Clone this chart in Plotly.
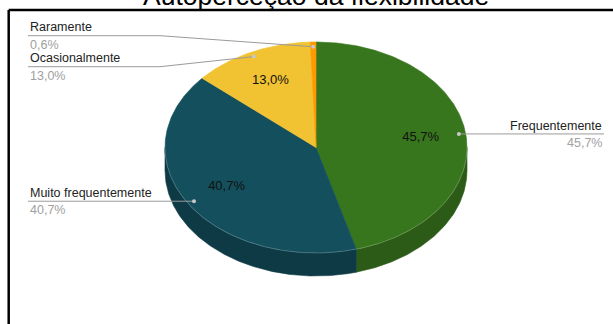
import numpy as np
import plotly.graph_objects as go

# ---- data ----
categories = ["Frequentemente", "Muito frequentemente", "Ocasionalmente", "Raramente"]
values = [45.7, 40.7, 13.0, 0.6]
value_labels = ["45,7%", "40,7%", "13,0%", "0,6%"]
title_text = "Autoperceção da flexibilidade"

# ---- styles ----
colors_top = ["#38761d", "#134f5c", "#f1c232", "#ff9900"]
colors_side = ["#2c5b17", "#0d3a44", "#b8931f", "#c27400"]
FONT = "Liberation Sans, Arial, sans-serif"

# ---- layout geometry (pixels) ----
W, H = 613, 324
CX, CY = 316, 147.5
A, B = 151, 105.5
DEPTH = 23 / B
# label layout per category: side, line y (px), elbow x (px), text x (px)
label_side = ["right", "left", "left", "left"]
label_line_y = [134, 201, 66.7, 35.7]
label_elbow_x = [None, None, 160, 160]
label_text_x = [604, 28, 28, 28]


def to_data(px_, py_):
    return (px_ - CX) / A, (CY - py_) / B


fr = np.array(values) / np.sum(values)
ends = np.cumsum(fr) * 360.0
starts = ends - fr * 360.0


def arc(a0, a1, off=0.0, r=1.0):
    n = max(2, int(abs(a1 - a0) * 2) + 2)
    t = np.radians(np.linspace(a0, a1, n))
    return r * np.sin(t), r * np.cos(t) - off


fig = go.Figure()

# side walls (front half: 90..270 deg)
for i in range(len(values)):
    lo, hi = max(starts[i], 90), min(ends[i], 270)
    if lo < hi:
        x1, y1 = arc(lo, hi)
        x2, y2 = arc(hi, lo, off=DEPTH)
        fig.add_trace(go.Scatter(
            x=np.concatenate([x1, x2, x1[:1]]), y=np.concatenate([y1, y2, y1[:1]]),
            mode="lines", fill="toself", fillcolor=colors_side[i],
            line=dict(width=0.6, color=colors_side[i]), hoverinfo="skip", showlegend=False))

# top faces
for i in range(len(values)):
    xa, ya = arc(starts[i], ends[i])
    fig.add_trace(go.Scatter(
        x=np.concatenate([[0], xa, [0]]), y=np.concatenate([[0], ya, [0]]),
        mode="lines", fill="toself", fillcolor=colors_top[i],
        line=dict(width=0.6, color=colors_top[i]), hoverinfo="skip", showlegend=False))

# faint rim highlight
xr_, yr_ = arc(90, 270)
fig.add_trace(go.Scatter(x=xr_, y=yr_, mode="lines",
                         line=dict(width=0.8, color="rgba(255,255,255,0.25)"),
                         hoverinfo="skip", showlegend=False))

mid = (starts + ends) / 2.0
mid_r = np.radians(mid)

# inner percentage labels
inner = fr > 0.05
fig.add_trace(go.Scatter(
    x=0.7 * np.sin(mid_r[inner]), y=0.7 * np.cos(mid_r[inner]),
    mode="text", text=[v for v, k in zip(value_labels, inner) if k],
    textfont=dict(family=FONT, size=13, color="#111111"),
    hoverinfo="skip", showlegend=False))

# leader lines
for i in range(len(values)):
    dx, dy = 0.955 * np.sin(mid_r[i]), 0.955 * np.cos(mid_r[i])
    ly = to_data(0, label_line_y[i])[1]
    xs, ys = [dx], [dy]
    if label_elbow_x[i] is not None:
        ex, ey = to_data(label_elbow_x[i], label_line_y[i])
        xs.append(ex); ys.append(ey)
    tx, _ = to_data(label_text_x[i], label_line_y[i])
    xs.append(tx); ys.append(ly if label_elbow_x[i] is not None else dy)
    fig.add_trace(go.Scatter(x=xs, y=ys, mode="lines", line=dict(width=1, color="#9a9a9a"),
                             hoverinfo="skip", showlegend=False))
    fig.add_trace(go.Scatter(x=[dx], y=[dy], mode="markers",
                             marker=dict(size=4, color="#c8c8c8"),
                             hoverinfo="skip", showlegend=False))
    anchor = "right" if label_side[i] == "right" else "left"
    fig.add_annotation(x=label_text_x[i] / W, y=1 - (label_line_y[i] - 8.5) / H,
                       xref="paper", yref="paper", xanchor=anchor, yanchor="middle",
                       text=categories[i], showarrow=False,
                       font=dict(family=FONT, size=12.5, color="#222222"))
    fig.add_annotation(x=label_text_x[i] / W, y=1 - (label_line_y[i] + 9) / H,
                       xref="paper", yref="paper", xanchor=anchor, yanchor="middle",
                       text=value_labels[i], showarrow=False,
                       font=dict(family=FONT, size=12.5, color="#a0a0a0"))

# title (mostly cropped at top, as in the reference)
fig.add_annotation(x=316 / W, y=1 + 3.8 / H, xref="paper", yref="paper",
                   xanchor="center", yanchor="middle", text=title_text, showarrow=False,
                   font=dict(family=FONT, size=26.5, color="#000000"))

# frame (top and left edges visible)
fig.add_shape(type="line", xref="paper", yref="paper", x0=8.7 / W, x1=1.0,
              y0=1 - 10 / H, y1=1 - 10 / H, line=dict(color="black", width=2.5))
fig.add_shape(type="line", xref="paper", yref="paper", x0=8.7 / W, x1=8.7 / W,
              y0=1 - 10 / H, y1=0, line=dict(color="black", width=2.5))

fig.update_layout(
    width=W, height=H, margin=dict(l=0, r=0, t=0, b=0),
    paper_bgcolor="white", plot_bgcolor="white",
    xaxis=dict(range=[(0 - CX) / A, (W - CX) / A], visible=False, fixedrange=True),
    yaxis=dict(range=[(CY - H) / B, CY / B], visible=False, fixedrange=True),
    showlegend=False,
)

fig.write_html("out.html", config={"displayModeBar": False},
               post_script="document.body.style.margin='0';document.body.style.overflow='hidden';")
